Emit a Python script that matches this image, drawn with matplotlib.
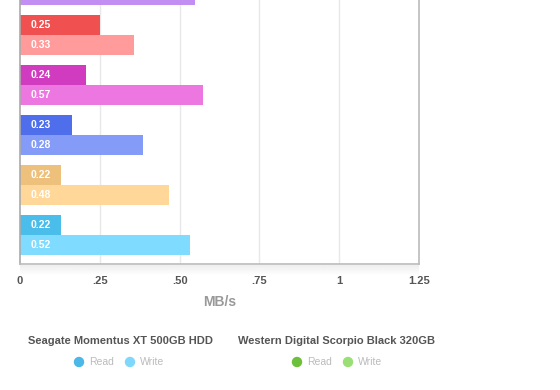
import matplotlib
matplotlib.use("Agg")
import matplotlib.pyplot as plt
import matplotlib.transforms as mtransforms
import numpy as np

plt.rcParams['font.family'] = ['Liberation Sans', 'DejaVu Sans']

# groups from bottom to top (top group is partly cut off in the reference)
read_vals = [0.13, 0.13, 0.163, 0.207, 0.25, None]
write_vals = [0.533, 0.467, 0.385, 0.573, 0.357, 0.548]
read_labels = ["0.22", "0.22", "0.23", "0.24", "0.25", ""]
write_labels = ["0.52", "0.48", "0.28", "0.57", "0.33", ""]
read_colors = ["#4BBDEB", "#EDC07C", "#4E6EEB", "#D03BC0", "#F05050", "#A070E0"]
write_colors = ["#7FDBFF", "#FFD799", "#849CF7", "#EC77E0", "#FF9B9B", "#C38EF4"]

xticks = [0, 0.25, 0.5, 0.75, 1.0, 1.25]
xticklabels = ["0", ".25", ".50", ".75", "1", "1.25"]

legend_titles = ["Seagate Momentus XT 500GB HDD", "Western Digital Scorpio Black 320GB"]
legend_colors = [("#4BB8E8", "#7FD8FC"), ("#6DC13A", "#9ADF75")]

W, H = 560, 390
fig = plt.figure(figsize=(W / 100, H / 100), dpi=100)
ax = fig.add_axes([20 / W, (H - 264) / H, (419 - 20) / W, 264 / H])

bh = 0.4
for i in range(len(write_vals)):
    if read_vals[i] is not None:
        ax.barh(i + 0.2, read_vals[i], height=bh, color=read_colors[i], zorder=2)
    ax.barh(i - 0.2, write_vals[i], height=bh, color=write_colors[i], zorder=2)
    for yy, lab in ((i + 0.2, read_labels[i]), (i - 0.2, write_labels[i])):
        if lab:
            ax.annotate(lab, xy=(0, yy), xytext=(7.9, 0), textcoords="offset points",
                        color="white", fontsize=7.5, fontweight="bold",
                        va="center", ha="left", zorder=3, annotation_clip=True)

ax.set_xlim(0, 1.25)
ax.set_ylim(-0.58, 4.7)
ax.set_yticks([])
ax.set_xticks(xticks)
ax.set_xticklabels(xticklabels, fontsize=8, color="#555555", fontweight="bold")
ax.tick_params(axis="x", length=0, pad=9)
for x in xticks[1:-1]:
    ax.axvline(x, color="#E8E8E8", lw=1, zorder=1)
ax.spines["top"].set_visible(False)
ax.spines["left"].set_color("#AAAAAA")
ax.spines["bottom"].set_color("#BBBBBB")
ax.spines["right"].set_color("#BBBBBB")
for s in ("left", "bottom", "right"):
    ax.spines[s].set_linewidth(1.2)
ax.set_xlabel("MB/s", fontsize=10, color="#999999", fontweight="bold", labelpad=6)

# soft shadow under the plot
sh = fig.add_axes([20 / W, (H - 276) / H, (419 - 20) / W, 11 / H])
grad = np.linspace(0.93, 1.0, 20).reshape(-1, 1)
sh.imshow(np.repeat(grad, 2, axis=1), cmap="gray", vmin=0, vmax=1, aspect="auto",
          extent=[0, 1, 0, 1], origin="upper")
sh.set_axis_off()
sh.set_zorder(-1)

# legend
title_x = [120, 336]
dot_x = [(79, 130), (297, 348)]
for k in range(2):
    fig.text(title_x[k] / W, 1 - 341 / H, legend_titles[k], ha="center", va="center",
             fontsize=8, color="#555555", fontweight="bold")
    for j, name in enumerate(["Read", "Write"]):
        fig.patches.append(matplotlib.patches.Ellipse(
            (dot_x[k][j] / W, 1 - 362 / H), 9 / W, 9 / H,
            transform=fig.transFigure, color=legend_colors[k][j]))
        fig.text((dot_x[k][j] + 10) / W, 1 - 362 / H, name, ha="left", va="center",
                 fontsize=7.5, color="#BBBBBB")

fig.savefig("out.png", dpi=100)
